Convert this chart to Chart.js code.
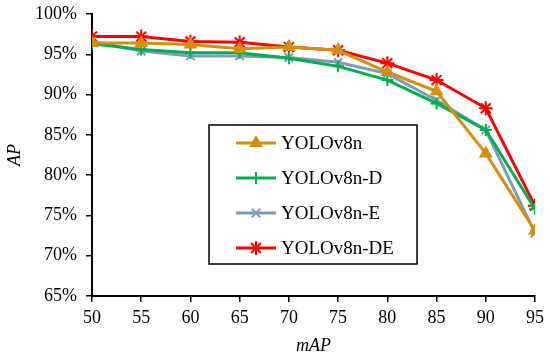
<!DOCTYPE html>
<html>
<head>
<meta charset="utf-8">
<script src="https://cdn.jsdelivr.net/npm/chart.js@4"></script>
<style>
  html, body { margin: 0; padding: 0; background: #fff; }
  #wrap { width: 550px; height: 361px; }
</style>
</head>
<body>
<div id="wrap"><canvas id="chart" width="550" height="361"></canvas></div>
<script>
// mAP thresholds (x axis)
const mapLevels = [50, 55, 60, 65, 70, 75, 80, 85, 90, 95];

// AP values, in percent
const yolov8n   = [96.4, 96.4, 96.2, 95.7, 95.9, 95.5, 92.8, 90.4, 82.7, 73.1];
const yolov8nD  = [96.3, 95.6, 95.2, 95.2, 94.5, 93.5, 91.8, 88.9, 85.6, 75.8];
const yolov8nE  = [96.6, 95.4, 94.8, 94.8, 94.6, 94.0, 92.6, 89.3, 85.6, 72.8];
const yolov8nDE = [97.2, 97.2, 96.6, 96.5, 95.9, 95.5, 93.9, 91.8, 88.3, 76.2];

const seriesNames = ["YOLOv8n", "YOLOv8n-D", "YOLOv8n-E", "YOLOv8n-DE"];

const serif = "'Liberation Serif', 'Times New Roman', serif";

function toPoints(arr) {
    return arr.map((v, i) => ({ x: mapLevels[i], y: v }));
}

const styles = [
    { color: "#D4900C", point: "triangle", radius: 6 },
    { color: "#00B050", point: "cross", radius: 6 },
    { color: "#7F9BB5", point: "crossRot", radius: 6 },
    { color: "#FF0000", point: "star", radius: 7 },
];

const values = [yolov8n, yolov8nD, yolov8nE, yolov8nDE];

const datasets = values.map((v, i) => ({
    label: seriesNames[i],
    data: toPoints(v),
    borderColor: styles[i].color,
    backgroundColor: styles[i].color,
    borderWidth: 3,
    pointStyle: styles[i].point,
    pointRadius: styles[i].radius,
    pointBorderWidth: 2,
    pointHoverRadius: styles[i].radius,
    tension: 0,
}));

// legend box drawn inside the plot, like the original figure
const boxLegend = {
    id: "boxLegend",
    afterDatasetsDraw(chart) {
        const ctx = chart.ctx;
        const x0 = 209, y0 = 125, w = 208, h = 139;
        ctx.save();
        ctx.fillStyle = "#fff";
        ctx.fillRect(x0, y0, w, h);
        ctx.strokeStyle = "#000";
        ctx.lineWidth = 1.5;
        ctx.strokeRect(x0, y0, w, h);
        chart.data.datasets.forEach((ds, i) => {
            const cy = 143 + i * 35;
            ctx.strokeStyle = ds.borderColor;
            ctx.lineWidth = 3;
            ctx.beginPath();
            ctx.moveTo(236, cy);
            ctx.lineTo(276, cy);
            ctx.stroke();
            ctx.fillStyle = ds.borderColor;
            ctx.strokeStyle = ds.borderColor;
            ctx.lineWidth = 2;
            Chart.helpers.drawPoint(ctx, {
                pointStyle: ds.pointStyle,
                radius: ds.pointRadius,
                borderWidth: 2,
            }, 256, cy);
            ctx.fillStyle = "#000";
            ctx.font = "19px " + serif;
            ctx.textBaseline = "middle";
            ctx.fillText(ds.label, 281, cy + 1);
        });
        ctx.restore();
    },
};

const ctx = document.getElementById("chart").getContext("2d");
const chart = new Chart(ctx, {
    type: "line",
    data: { datasets: datasets },
    plugins: [boxLegend],
    options: {
        responsive: false,
        animation: false,
        layout: { padding: { top: 14, right: 15, left: 0, bottom: 0 } },
        plugins: {
            legend: { display: false },
            tooltip: { enabled: false },
        },
        scales: {
            x: {
                type: "linear",
                min: 50,
                max: 95,
                afterFit(scale) { scale.height = 65; },
                ticks: {
                    stepSize: 5,
                    color: "#000",
                    font: { family: serif, size: 18 },
                    padding: 5,
                    maxRotation: 0,
                },
                grid: {
                    drawOnChartArea: false,
                    drawTicks: true,
                    tickLength: 6,
                    color: "#000",
                    lineWidth: 1.5,
                },
                border: { color: "#000", width: 2 },
                title: {
                    display: true,
                    text: "mAP",
                    color: "#000",
                    font: { family: serif, size: 18, style: "italic" },
                    padding: { top: 6 },
                },
            },
            y: {
                min: 65,
                max: 100,
                afterFit(scale) {
                    scale.width = 92;
                    scale.paddingTop = 0;
                    scale.paddingBottom = 0;
                },
                ticks: {
                    stepSize: 5,
                    color: "#000",
                    font: { family: serif, size: 18, lineHeight: 1 },
                    padding: 9,
                    callback: (v) => v + "%",
                },
                grid: {
                    drawOnChartArea: false,
                    drawTicks: true,
                    tickLength: 6,
                    color: "#000",
                    lineWidth: 1.5,
                },
                border: { color: "#000", width: 2 },
                title: {
                    display: true,
                    text: "AP",
                    color: "#000",
                    font: { family: serif, size: 18, style: "italic" },
                    padding: { bottom: 0 },
                },
            },
        },
    },
});
</script>
</body>
</html>
